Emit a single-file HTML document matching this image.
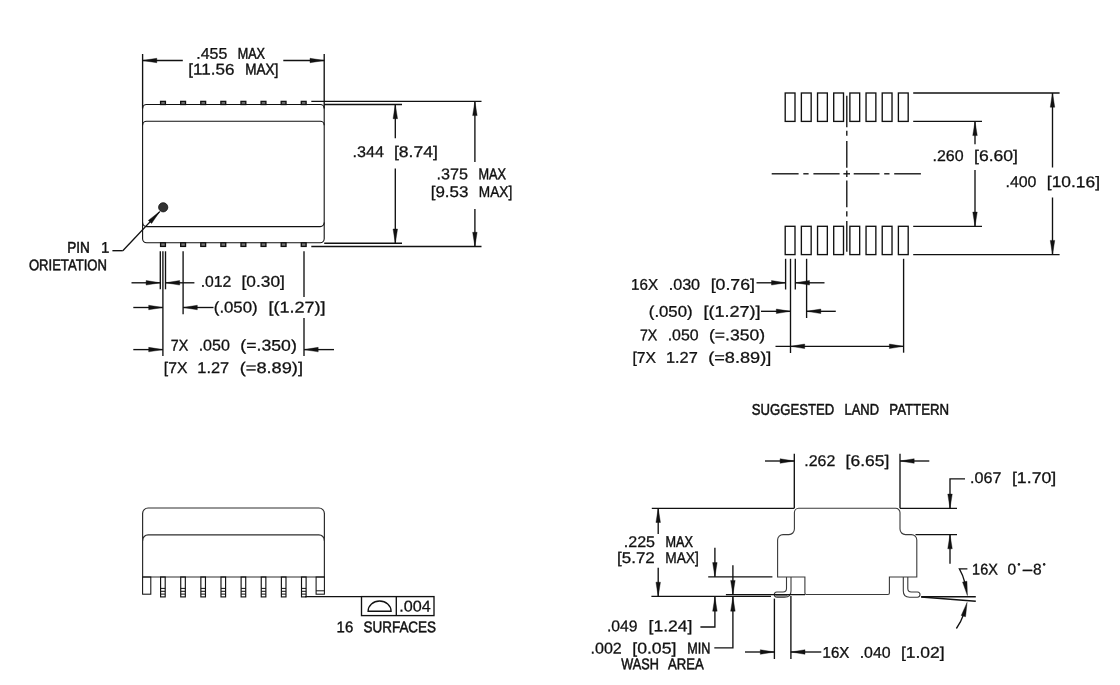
<!DOCTYPE html>
<html lang="en">
<head>
<meta charset="utf-8">
<title>Package outline drawing</title>
<style>
html,body{margin:0;padding:0;background:#fff;}
body{width:1120px;height:685px;overflow:hidden;}
svg{display:block;filter:grayscale(1);}
svg text{font-family:"Liberation Sans",sans-serif;fill:#111;text-anchor:start;stroke:#111;}
</style>
</head>
<body>
<svg width="1120" height="685" viewBox="0 0 1120 685">
<rect x="0" y="0" width="1120" height="685" fill="#ffffff" stroke="none"/>
<g stroke="#111111" fill="none">
<path d="M142.6,108.5 A4,4 0 0 1 146.6,104.5 H320.2 A4,4 0 0 1 324.2,108.5 V238.8 A4,4 0 0 1 320.2,242.8 H146.6 A4,4 0 0 1 142.6,238.8 Z" stroke-width="1.1" fill="none" />
<path d="M142.6,125.2 A4,4 0 0 1 146.6,121.2 H320.2 A4,4 0 0 1 324.2,125.2" stroke-width="1.1" fill="none" />
<path d="M142.6,222.6 A4,4 0 0 0 146.6,226.6 H320.2 A4,4 0 0 0 324.2,222.6" stroke-width="1.1" fill="none" />
<rect x="160.60" y="101.40" width="4.80" height="3.10" rx="0" stroke-width="1.35" fill="#777"/>
<rect x="160.60" y="242.80" width="4.80" height="3.60" rx="0" stroke-width="1.35" fill="#777"/>
<rect x="180.70" y="101.40" width="4.80" height="3.10" rx="0" stroke-width="1.35" fill="#777"/>
<rect x="180.70" y="242.80" width="4.80" height="3.60" rx="0" stroke-width="1.35" fill="#777"/>
<rect x="200.80" y="101.40" width="4.80" height="3.10" rx="0" stroke-width="1.35" fill="#777"/>
<rect x="200.80" y="242.80" width="4.80" height="3.60" rx="0" stroke-width="1.35" fill="#777"/>
<rect x="220.90" y="101.40" width="4.80" height="3.10" rx="0" stroke-width="1.35" fill="#777"/>
<rect x="220.90" y="242.80" width="4.80" height="3.60" rx="0" stroke-width="1.35" fill="#777"/>
<rect x="241.00" y="101.40" width="4.80" height="3.10" rx="0" stroke-width="1.35" fill="#777"/>
<rect x="241.00" y="242.80" width="4.80" height="3.60" rx="0" stroke-width="1.35" fill="#777"/>
<rect x="261.10" y="101.40" width="4.80" height="3.10" rx="0" stroke-width="1.35" fill="#777"/>
<rect x="261.10" y="242.80" width="4.80" height="3.60" rx="0" stroke-width="1.35" fill="#777"/>
<rect x="281.20" y="101.40" width="4.80" height="3.10" rx="0" stroke-width="1.35" fill="#777"/>
<rect x="281.20" y="242.80" width="4.80" height="3.60" rx="0" stroke-width="1.35" fill="#777"/>
<rect x="301.30" y="101.40" width="4.80" height="3.10" rx="0" stroke-width="1.35" fill="#777"/>
<rect x="301.30" y="242.80" width="4.80" height="3.60" rx="0" stroke-width="1.35" fill="#777"/>
<circle cx="163.2" cy="207.3" r="4.6" fill="#333" stroke="#111111" stroke-width="0.8"/>
<line x1="112.40" y1="250.70" x2="122.80" y2="250.70" stroke-width="1.35" />
<line x1="122.80" y1="250.70" x2="159.70" y2="211.60" stroke-width="1.35" />
<polygon points="159.70,211.60 151.59,223.47 148.32,220.38" fill="#111111" stroke="#111111" stroke-width="0.4"/>
<text transform="translate(67.20,252.70) rotate(0.05) scale(0.8774,1)" font-size="15.5" stroke-width="0.5">PIN</text>
<text transform="translate(100.94,252.70) rotate(0.05) scale(0.9788,1)" font-size="15.5" stroke-width="0.28">1</text>
<text transform="translate(28.90,270.30) rotate(0.05) scale(0.8450,1)" font-size="15.5" stroke-width="0.5">ORIETATION</text>
<line x1="142.60" y1="54.00" x2="142.60" y2="108.50" stroke-width="1.35" />
<line x1="324.20" y1="54.00" x2="324.20" y2="108.50" stroke-width="1.35" />
<line x1="182.80" y1="60.50" x2="142.60" y2="60.50" stroke-width="1.35" />
<polygon points="142.60,60.50 156.80,58.25 156.80,62.75" fill="#111111" stroke="#111111" stroke-width="0.4"/>
<line x1="283.30" y1="60.50" x2="324.20" y2="60.50" stroke-width="1.35" />
<polygon points="324.20,60.50 310.00,62.75 310.00,58.25" fill="#111111" stroke="#111111" stroke-width="0.4"/>
<text transform="translate(196.20,58.70) rotate(0.05) scale(1.0306,1)" font-size="15.5" stroke-width="0.28">.455</text>
<text transform="translate(237.71,58.70) rotate(0.05) scale(0.8125,1)" font-size="15.5" stroke-width="0.5">MAX</text>
<text transform="translate(188.30,74.60) rotate(0.05) scale(1.0999,1)" font-size="15.5" stroke-width="0.28">[11.56</text>
<text transform="translate(245.17,74.60) rotate(0.05) scale(0.8715,1)" font-size="15.5" stroke-width="0.5">MAX]</text>
<line x1="324.20" y1="104.50" x2="402.00" y2="104.50" stroke-width="1.35" />
<line x1="324.20" y1="243.20" x2="402.00" y2="243.20" stroke-width="1.35" />
<line x1="311.30" y1="101.40" x2="481.50" y2="101.40" stroke-width="1.35" />
<line x1="311.30" y1="246.50" x2="481.50" y2="246.50" stroke-width="1.35" />
<line x1="395.30" y1="138.20" x2="395.30" y2="104.50" stroke-width="1.35" />
<polygon points="395.30,104.50 397.55,118.70 393.05,118.70" fill="#111111" stroke="#111111" stroke-width="0.4"/>
<line x1="395.30" y1="168.50" x2="395.30" y2="243.20" stroke-width="1.35" />
<polygon points="395.30,243.20 393.05,229.00 397.55,229.00" fill="#111111" stroke="#111111" stroke-width="0.4"/>
<line x1="474.90" y1="162.00" x2="474.90" y2="101.40" stroke-width="1.35" />
<polygon points="474.90,101.40 477.15,115.60 472.65,115.60" fill="#111111" stroke="#111111" stroke-width="0.4"/>
<line x1="474.90" y1="209.00" x2="474.90" y2="246.50" stroke-width="1.35" />
<polygon points="474.90,246.50 472.65,232.30 477.15,232.30" fill="#111111" stroke="#111111" stroke-width="0.4"/>
<text transform="translate(352.50,156.90) rotate(0.05) scale(1.0451,1)" font-size="15.5" stroke-width="0.28">.344</text>
<text transform="translate(393.96,156.90) rotate(0.05) scale(1.1305,1)" font-size="15.5" stroke-width="0.28">[8.74]</text>
<text transform="translate(436.50,179.30) rotate(0.05) scale(1.0423,1)" font-size="15.5" stroke-width="0.28">.375</text>
<text transform="translate(478.50,179.30) rotate(0.05) scale(0.8217,1)" font-size="15.5" stroke-width="0.5">MAX</text>
<text transform="translate(430.70,196.90) rotate(0.05) scale(1.0930,1)" font-size="15.5" stroke-width="0.28">[9.53</text>
<text transform="translate(478.79,196.90) rotate(0.05) scale(0.8817,1)" font-size="15.5" stroke-width="0.38">MAX]</text>
<line x1="160.30" y1="251.30" x2="160.30" y2="289.30" stroke-width="1.35" />
<line x1="165.50" y1="251.30" x2="165.50" y2="289.30" stroke-width="1.35" />
<line x1="162.90" y1="251.30" x2="162.90" y2="356.00" stroke-width="1.35" />
<line x1="183.10" y1="251.30" x2="183.10" y2="314.30" stroke-width="1.35" />
<line x1="304.00" y1="251.30" x2="304.00" y2="297.00" stroke-width="1.35" />
<line x1="304.00" y1="318.00" x2="304.00" y2="356.00" stroke-width="1.35" />
<line x1="131.50" y1="282.80" x2="160.30" y2="282.80" stroke-width="1.35" />
<polygon points="160.30,282.80 146.10,285.05 146.10,280.55" fill="#111111" stroke="#111111" stroke-width="0.4"/>
<line x1="194.40" y1="282.80" x2="165.50" y2="282.80" stroke-width="1.35" />
<polygon points="165.50,282.80 179.70,280.55 179.70,285.05" fill="#111111" stroke="#111111" stroke-width="0.4"/>
<text transform="translate(200.70,286.80) rotate(0.05) scale(1.0153,1)" font-size="15.5" stroke-width="0.28">.012</text>
<text transform="translate(241.57,286.80) rotate(0.05) scale(1.1148,1)" font-size="15.5" stroke-width="0.28">[0.30]</text>
<line x1="133.30" y1="307.50" x2="162.90" y2="307.50" stroke-width="1.35" />
<polygon points="162.90,307.50 148.70,309.75 148.70,305.25" fill="#111111" stroke="#111111" stroke-width="0.4"/>
<line x1="213.50" y1="307.50" x2="183.10" y2="307.50" stroke-width="1.35" />
<polygon points="183.10,307.50 197.30,305.25 197.30,309.75" fill="#111111" stroke="#111111" stroke-width="0.4"/>
<text transform="translate(213.80,312.40) rotate(0.05) scale(1.0826,1)" font-size="15.5" stroke-width="0.28">(.050)</text>
<text transform="translate(268.51,312.40) rotate(0.05) scale(1.1627,1)" font-size="15.5" stroke-width="0.28">[(1.27)]</text>
<line x1="133.30" y1="349.60" x2="162.90" y2="349.60" stroke-width="1.35" />
<polygon points="162.90,349.60 148.70,351.85 148.70,347.35" fill="#111111" stroke="#111111" stroke-width="0.4"/>
<line x1="334.00" y1="349.60" x2="304.00" y2="349.60" stroke-width="1.35" />
<polygon points="304.00,349.60 318.20,347.35 318.20,351.85" fill="#111111" stroke="#111111" stroke-width="0.4"/>
<text transform="translate(170.80,350.60) rotate(0.05) scale(0.9176,1)" font-size="15.5" stroke-width="0.38">7X</text>
<text transform="translate(198.67,350.60) rotate(0.05) scale(1.0347,1)" font-size="15.5" stroke-width="0.28">.050</text>
<text transform="translate(240.35,350.60) rotate(0.05) scale(1.1396,1)" font-size="15.5" stroke-width="0.28">(=.350)</text>
<text transform="translate(163.80,373.00) rotate(0.05) scale(1.0162,1)" font-size="15.5" stroke-width="0.28">[7X</text>
<text transform="translate(197.32,373.00) rotate(0.05) scale(1.0578,1)" font-size="15.5" stroke-width="0.28">1.27</text>
<text transform="translate(239.72,373.00) rotate(0.05) scale(1.1751,1)" font-size="15.5" stroke-width="0.28">(=8.89)]</text>
<rect x="785.20" y="93.00" width="9.80" height="28.40" rx="0" stroke-width="1.35" fill="none"/>
<rect x="785.20" y="226.30" width="9.80" height="28.30" rx="0" stroke-width="1.35" fill="none"/>
<rect x="801.37" y="93.00" width="9.80" height="28.40" rx="0" stroke-width="1.35" fill="none"/>
<rect x="801.37" y="226.30" width="9.80" height="28.30" rx="0" stroke-width="1.35" fill="none"/>
<rect x="817.54" y="93.00" width="9.80" height="28.40" rx="0" stroke-width="1.35" fill="none"/>
<rect x="817.54" y="226.30" width="9.80" height="28.30" rx="0" stroke-width="1.35" fill="none"/>
<rect x="833.71" y="93.00" width="9.80" height="28.40" rx="0" stroke-width="1.35" fill="none"/>
<rect x="833.71" y="226.30" width="9.80" height="28.30" rx="0" stroke-width="1.35" fill="none"/>
<rect x="849.88" y="93.00" width="9.80" height="28.40" rx="0" stroke-width="1.35" fill="none"/>
<rect x="849.88" y="226.30" width="9.80" height="28.30" rx="0" stroke-width="1.35" fill="none"/>
<rect x="866.05" y="93.00" width="9.80" height="28.40" rx="0" stroke-width="1.35" fill="none"/>
<rect x="866.05" y="226.30" width="9.80" height="28.30" rx="0" stroke-width="1.35" fill="none"/>
<rect x="882.22" y="93.00" width="9.80" height="28.40" rx="0" stroke-width="1.35" fill="none"/>
<rect x="882.22" y="226.30" width="9.80" height="28.30" rx="0" stroke-width="1.35" fill="none"/>
<rect x="898.39" y="93.00" width="9.80" height="28.40" rx="0" stroke-width="1.35" fill="none"/>
<rect x="898.39" y="226.30" width="9.80" height="28.30" rx="0" stroke-width="1.35" fill="none"/>
<line x1="846.80" y1="95.70" x2="846.80" y2="127.20" stroke-width="1.35" />
<line x1="846.80" y1="130.80" x2="846.80" y2="135.80" stroke-width="1.35" />
<line x1="846.80" y1="141.10" x2="846.80" y2="167.80" stroke-width="1.35" />
<line x1="846.80" y1="170.60" x2="846.80" y2="177.00" stroke-width="1.35" />
<line x1="846.80" y1="180.50" x2="846.80" y2="207.20" stroke-width="1.35" />
<line x1="846.80" y1="211.20" x2="846.80" y2="216.60" stroke-width="1.35" />
<line x1="846.80" y1="221.00" x2="846.80" y2="251.80" stroke-width="1.35" />
<line x1="771.70" y1="173.80" x2="798.60" y2="173.80" stroke-width="1.35" />
<line x1="803.30" y1="173.80" x2="808.60" y2="173.80" stroke-width="1.35" />
<line x1="813.40" y1="173.80" x2="839.60" y2="173.80" stroke-width="1.35" />
<line x1="843.40" y1="173.80" x2="850.00" y2="173.80" stroke-width="1.35" />
<line x1="853.70" y1="173.80" x2="879.50" y2="173.80" stroke-width="1.35" />
<line x1="884.20" y1="173.80" x2="889.50" y2="173.80" stroke-width="1.35" />
<line x1="894.20" y1="173.80" x2="920.90" y2="173.80" stroke-width="1.35" />
<line x1="913.20" y1="93.00" x2="1059.60" y2="93.00" stroke-width="1.35" />
<line x1="913.20" y1="121.40" x2="982.00" y2="121.40" stroke-width="1.35" />
<line x1="913.20" y1="226.30" x2="982.00" y2="226.30" stroke-width="1.35" />
<line x1="913.20" y1="254.60" x2="1059.60" y2="254.60" stroke-width="1.35" />
<line x1="975.00" y1="144.30" x2="975.00" y2="121.40" stroke-width="1.35" />
<polygon points="975.00,121.40 977.25,135.60 972.75,135.60" fill="#111111" stroke="#111111" stroke-width="0.4"/>
<line x1="975.00" y1="170.00" x2="975.00" y2="226.30" stroke-width="1.35" />
<polygon points="975.00,226.30 972.75,212.10 977.25,212.10" fill="#111111" stroke="#111111" stroke-width="0.4"/>
<text transform="translate(932.50,160.90) rotate(0.05) scale(1.0317,1)" font-size="15.5" stroke-width="0.28">.260</text>
<text transform="translate(974.06,160.90) rotate(0.05) scale(1.1331,1)" font-size="15.5" stroke-width="0.28">[6.60]</text>
<line x1="1052.50" y1="167.50" x2="1052.50" y2="93.00" stroke-width="1.35" />
<polygon points="1052.50,93.00 1054.75,107.20 1050.25,107.20" fill="#111111" stroke="#111111" stroke-width="0.4"/>
<line x1="1052.50" y1="197.50" x2="1052.50" y2="254.60" stroke-width="1.35" />
<polygon points="1052.50,254.60 1050.25,240.40 1054.75,240.40" fill="#111111" stroke="#111111" stroke-width="0.4"/>
<text transform="translate(1005.50,187.10) rotate(0.05) scale(1.0265,1)" font-size="15.5" stroke-width="0.28">.400</text>
<text transform="translate(1046.84,187.10) rotate(0.05) scale(1.1216,1)" font-size="15.5" stroke-width="0.28">[10.16]</text>
<line x1="785.60" y1="258.80" x2="785.60" y2="289.50" stroke-width="1.35" />
<line x1="795.30" y1="258.80" x2="795.30" y2="289.50" stroke-width="1.35" />
<line x1="790.50" y1="258.80" x2="790.50" y2="353.00" stroke-width="1.35" />
<line x1="806.60" y1="258.80" x2="806.60" y2="318.00" stroke-width="1.35" />
<line x1="903.60" y1="258.80" x2="903.60" y2="352.70" stroke-width="1.35" />
<text transform="translate(631.03,289.70) rotate(0.05) scale(0.9834,1)" font-size="15.5" stroke-width="0.28">16X</text>
<text transform="translate(668.70,289.70) rotate(0.05) scale(1.0412,1)" font-size="15.5" stroke-width="0.28">.030</text>
<text transform="translate(710.65,289.70) rotate(0.05) scale(1.1436,1)" font-size="15.5" stroke-width="0.28">[0.76]</text>
<line x1="756.50" y1="282.80" x2="785.70" y2="282.80" stroke-width="1.35" />
<polygon points="785.70,282.80 771.50,285.05 771.50,280.55" fill="#111111" stroke="#111111" stroke-width="0.4"/>
<line x1="824.50" y1="282.80" x2="795.30" y2="282.80" stroke-width="1.35" />
<polygon points="795.30,282.80 809.50,280.55 809.50,285.05" fill="#111111" stroke="#111111" stroke-width="0.4"/>
<text transform="translate(648.80,316.70) rotate(0.05) scale(1.0816,1)" font-size="15.5" stroke-width="0.28">(.050)</text>
<text transform="translate(703.46,316.70) rotate(0.05) scale(1.1616,1)" font-size="15.5" stroke-width="0.28">[(1.27)]</text>
<line x1="761.00" y1="311.30" x2="790.50" y2="311.30" stroke-width="1.35" />
<polygon points="790.50,311.30 776.30,313.55 776.30,309.05" fill="#111111" stroke="#111111" stroke-width="0.4"/>
<line x1="835.80" y1="311.30" x2="806.60" y2="311.30" stroke-width="1.35" />
<polygon points="806.60,311.30 820.80,309.05 820.80,313.55" fill="#111111" stroke="#111111" stroke-width="0.4"/>
<text transform="translate(640.00,340.30) rotate(0.05) scale(0.9108,1)" font-size="15.5" stroke-width="0.38">7X</text>
<text transform="translate(667.64,340.30) rotate(0.05) scale(1.0267,1)" font-size="15.5" stroke-width="0.28">.050</text>
<text transform="translate(708.99,340.30) rotate(0.05) scale(1.1307,1)" font-size="15.5" stroke-width="0.28">(=.350)</text>
<text transform="translate(632.50,362.80) rotate(0.05) scale(1.0134,1)" font-size="15.5" stroke-width="0.28">[7X</text>
<text transform="translate(665.92,362.80) rotate(0.05) scale(1.0548,1)" font-size="15.5" stroke-width="0.28">1.27</text>
<text transform="translate(708.20,362.80) rotate(0.05) scale(1.1718,1)" font-size="15.5" stroke-width="0.28">(=8.89)]</text>
<line x1="775.50" y1="346.30" x2="903.60" y2="346.30" stroke-width="1.35" />
<polygon points="790.50,346.30 804.70,344.05 804.70,348.55" fill="#111111" stroke="#111111" stroke-width="0.4"/>
<polygon points="903.60,346.30 889.40,348.55 889.40,344.05" fill="#111111" stroke="#111111" stroke-width="0.4"/>
<text transform="translate(751.80,414.70) rotate(0.05) scale(0.8467,1)" font-size="15.5" stroke-width="0.5">SUGGESTED</text>
<text transform="translate(844.50,414.70) rotate(0.05) scale(0.8349,1)" font-size="15.5" stroke-width="0.5">LAND</text>
<text transform="translate(889.33,414.70) rotate(0.05) scale(0.8548,1)" font-size="15.5" stroke-width="0.5">PATTERN</text>
<path d="M142.6,541 V513.5 A5.5,5.5 0 0 1 148.1,508 H318.9 A5.5,5.5 0 0 1 324.4,513.5 V541" stroke-width="1.2" fill="none" stroke="#2e2e2e"/>
<path d="M142.6,577 V540.4 A5.5,5.5 0 0 1 148.1,534.9 H318.9 A5.5,5.5 0 0 1 324.4,540.4 V577 Z" stroke-width="1.2" fill="none" stroke="#2e2e2e"/>
<rect x="142.60" y="577.00" width="8.20" height="17.20" rx="0" stroke-width="1.05" fill="none"/>
<rect x="316.10" y="577.00" width="8.30" height="17.20" rx="0" stroke-width="1.05" fill="none"/>
<line x1="316.10" y1="590.80" x2="324.40" y2="590.80" stroke-width="1.0" />
<rect x="160.60" y="577.00" width="4.60" height="19.90" rx="0" stroke-width="1.15" fill="none"/>
<line x1="160.60" y1="588.40" x2="165.20" y2="588.40" stroke-width="1.0" />
<line x1="160.60" y1="591.30" x2="165.20" y2="591.30" stroke-width="1.0" />
<line x1="160.60" y1="594.10" x2="165.20" y2="594.10" stroke-width="1.0" />
<rect x="180.73" y="577.00" width="4.60" height="19.90" rx="0" stroke-width="1.15" fill="none"/>
<line x1="180.73" y1="588.40" x2="185.33" y2="588.40" stroke-width="1.0" />
<line x1="180.73" y1="591.30" x2="185.33" y2="591.30" stroke-width="1.0" />
<line x1="180.73" y1="594.10" x2="185.33" y2="594.10" stroke-width="1.0" />
<rect x="200.86" y="577.00" width="4.60" height="19.90" rx="0" stroke-width="1.15" fill="none"/>
<line x1="200.86" y1="588.40" x2="205.46" y2="588.40" stroke-width="1.0" />
<line x1="200.86" y1="591.30" x2="205.46" y2="591.30" stroke-width="1.0" />
<line x1="200.86" y1="594.10" x2="205.46" y2="594.10" stroke-width="1.0" />
<rect x="220.99" y="577.00" width="4.60" height="19.90" rx="0" stroke-width="1.15" fill="none"/>
<line x1="220.99" y1="588.40" x2="225.59" y2="588.40" stroke-width="1.0" />
<line x1="220.99" y1="591.30" x2="225.59" y2="591.30" stroke-width="1.0" />
<line x1="220.99" y1="594.10" x2="225.59" y2="594.10" stroke-width="1.0" />
<rect x="241.12" y="577.00" width="4.60" height="19.90" rx="0" stroke-width="1.15" fill="none"/>
<line x1="241.12" y1="588.40" x2="245.72" y2="588.40" stroke-width="1.0" />
<line x1="241.12" y1="591.30" x2="245.72" y2="591.30" stroke-width="1.0" />
<line x1="241.12" y1="594.10" x2="245.72" y2="594.10" stroke-width="1.0" />
<rect x="261.25" y="577.00" width="4.60" height="19.90" rx="0" stroke-width="1.15" fill="none"/>
<line x1="261.25" y1="588.40" x2="265.85" y2="588.40" stroke-width="1.0" />
<line x1="261.25" y1="591.30" x2="265.85" y2="591.30" stroke-width="1.0" />
<line x1="261.25" y1="594.10" x2="265.85" y2="594.10" stroke-width="1.0" />
<rect x="281.38" y="577.00" width="4.60" height="19.90" rx="0" stroke-width="1.15" fill="none"/>
<line x1="281.38" y1="588.40" x2="285.98" y2="588.40" stroke-width="1.0" />
<line x1="281.38" y1="591.30" x2="285.98" y2="591.30" stroke-width="1.0" />
<line x1="281.38" y1="594.10" x2="285.98" y2="594.10" stroke-width="1.0" />
<rect x="301.51" y="577.00" width="4.60" height="19.90" rx="0" stroke-width="1.15" fill="none"/>
<line x1="301.51" y1="588.40" x2="306.11" y2="588.40" stroke-width="1.0" />
<line x1="301.51" y1="591.30" x2="306.11" y2="591.30" stroke-width="1.0" />
<line x1="301.51" y1="594.10" x2="306.11" y2="594.10" stroke-width="1.0" />
<line x1="305.00" y1="596.60" x2="361.50" y2="596.60" stroke-width="1.35" />
<rect x="361.50" y="596.60" width="72.50" height="19.00" rx="0" stroke-width="1.35" fill="none"/>
<line x1="396.30" y1="596.60" x2="396.30" y2="615.60" stroke-width="1.35" />
<path d="M368.1,611.2 A11.5,10.2 0 0 1 391.1,611.2 Z" stroke-width="1.35" fill="none" />
<text transform="translate(399.30,611.60) rotate(0.05) scale(1.0443,1)" font-size="15.5" stroke-width="0.28">.004</text>
<text transform="translate(336.56,632.30) rotate(0.05) scale(0.9660,1)" font-size="15.5" stroke-width="0.38">16</text>
<text transform="translate(363.45,632.30) rotate(0.05) scale(0.8696,1)" font-size="15.5" stroke-width="0.5">SURFACES</text>
<path d="M798.6,508.3 H895.7 A4.3,4.3 0 0 1 900,512.6 V529.1 A5.5,5.5 0 0 0 905.5,534.6 H911.3 A5.5,5.5 0 0 1 916.8,540.1 V577 H889.4 V593 Q889.4,594.5 887.9,594.5 H806.4 Q804.9,594.5 804.9,593 V577 H777.6 V540.1 A5.5,5.5 0 0 1 783.1,534.6 H788.9 A5.5,5.5 0 0 0 794.4,529.1 V512.6 A4.3,4.3 0 0 1 798.6,508.3 Z" stroke-width="1.1" fill="none" stroke="#3a3a3a"/>
<path d="M786.5,577 V588.5 Q786.5,592 783,592 H776.8 Q774.3,592.2 774.3,594.6 Q774.3,597.2 776.8,597.2 H784.8 Q791,597.2 791,591 V577" stroke-width="1.1" fill="none" stroke="#3a3a3a"/>
<path d="M775.5,595.3 H787.5 Q786,596.8 783.5,596.9 H777 Z" stroke-width="0.3" fill="#999" />
<path d="M907.8,577 V588.5 Q907.8,592 911.3,592 H917.5 Q920,592.2 920,594.6 Q920,597.2 917.5,597.2 H909.5 Q903.3,597.2 903.3,591 V577" stroke-width="1.1" fill="none" stroke="#3a3a3a"/>
<line x1="794.30" y1="453.80" x2="794.30" y2="508.30" stroke-width="1.35" />
<line x1="900.00" y1="453.80" x2="900.00" y2="508.30" stroke-width="1.35" />
<line x1="765.00" y1="461.00" x2="794.30" y2="461.00" stroke-width="1.35" />
<polygon points="794.30,461.00 780.10,463.25 780.10,458.75" fill="#111111" stroke="#111111" stroke-width="0.4"/>
<line x1="929.30" y1="461.00" x2="900.00" y2="461.00" stroke-width="1.35" />
<polygon points="900.00,461.00 914.20,458.75 914.20,463.25" fill="#111111" stroke="#111111" stroke-width="0.4"/>
<text transform="translate(804.30,465.90) rotate(0.05) scale(1.0259,1)" font-size="15.5" stroke-width="0.28">.262</text>
<text transform="translate(845.61,465.90) rotate(0.05) scale(1.1266,1)" font-size="15.5" stroke-width="0.28">[6.65]</text>
<line x1="651.80" y1="508.30" x2="794.30" y2="508.30" stroke-width="1.35" />
<line x1="651.40" y1="596.40" x2="771.00" y2="596.40" stroke-width="1.35" />
<line x1="658.20" y1="534.00" x2="658.20" y2="508.30" stroke-width="1.35" />
<polygon points="658.20,508.30 660.45,522.50 655.95,522.50" fill="#111111" stroke="#111111" stroke-width="0.4"/>
<line x1="658.20" y1="567.80" x2="658.20" y2="596.40" stroke-width="1.35" />
<polygon points="658.20,596.40 655.95,582.20 660.45,582.20" fill="#111111" stroke="#111111" stroke-width="0.4"/>
<text transform="translate(623.80,547.10) rotate(0.05) scale(1.0365,1)" font-size="15.5" stroke-width="0.28">.225</text>
<text transform="translate(665.55,547.10) rotate(0.05) scale(0.8171,1)" font-size="15.5" stroke-width="0.5">MAX</text>
<text transform="translate(617.00,562.90) rotate(0.05) scale(1.0970,1)" font-size="15.5" stroke-width="0.28">[5.72</text>
<text transform="translate(665.26,562.90) rotate(0.05) scale(0.8849,1)" font-size="15.5" stroke-width="0.38">MAX]</text>
<line x1="708.20" y1="576.80" x2="772.40" y2="576.80" stroke-width="1.35" />
<line x1="714.90" y1="547.80" x2="714.90" y2="576.80" stroke-width="1.35" />
<polygon points="714.90,576.80 712.65,562.60 717.15,562.60" fill="#111111" stroke="#111111" stroke-width="0.4"/>
<path d="M700.4,627 H714.9 V597" stroke-width="1.35" fill="none" />
<polygon points="714.90,597.00 717.15,611.20 712.65,611.20" fill="#111111" stroke="#111111" stroke-width="0.4"/>
<text transform="translate(607.00,631.30) rotate(0.05) scale(1.0160,1)" font-size="15.5" stroke-width="0.28">.049</text>
<text transform="translate(648.56,631.30) rotate(0.05) scale(1.1331,1)" font-size="15.5" stroke-width="0.28">[1.24]</text>
<line x1="725.90" y1="594.60" x2="805.00" y2="594.60" stroke-width="1.35" />
<line x1="732.90" y1="565.20" x2="732.90" y2="594.60" stroke-width="1.35" />
<polygon points="732.90,594.60 730.65,580.40 735.15,580.40" fill="#111111" stroke="#111111" stroke-width="0.4"/>
<path d="M714.3,647.8 H732.9 V597" stroke-width="1.35" fill="none" />
<polygon points="732.90,597.00 735.15,611.20 730.65,611.20" fill="#111111" stroke="#111111" stroke-width="0.4"/>
<text transform="translate(590.50,653.50) rotate(0.05) scale(1.0363,1)" font-size="15.5" stroke-width="0.28">.002</text>
<text transform="translate(632.25,653.50) rotate(0.05) scale(1.1382,1)" font-size="15.5" stroke-width="0.28">[0.05]</text>
<text transform="translate(687.35,653.50) rotate(0.05) scale(0.8147,1)" font-size="15.5" stroke-width="0.5">MIN</text>
<text transform="translate(621.30,669.30) rotate(0.05) scale(0.8174,1)" font-size="15.5" stroke-width="0.5">WASH</text>
<text transform="translate(668.12,669.30) rotate(0.05) scale(0.8453,1)" font-size="15.5" stroke-width="0.5">AREA</text>
<line x1="774.40" y1="598.60" x2="774.40" y2="659.00" stroke-width="1.35" />
<line x1="790.90" y1="596.00" x2="790.90" y2="659.00" stroke-width="1.35" />
<line x1="745.00" y1="652.00" x2="774.50" y2="652.00" stroke-width="1.35" />
<polygon points="774.50,652.00 760.30,654.25 760.30,649.75" fill="#111111" stroke="#111111" stroke-width="0.4"/>
<line x1="821.30" y1="652.00" x2="790.80" y2="652.00" stroke-width="1.35" />
<polygon points="790.80,652.00 805.00,649.75 805.00,654.25" fill="#111111" stroke="#111111" stroke-width="0.4"/>
<text transform="translate(822.56,657.80) rotate(0.05) scale(0.9688,1)" font-size="15.5" stroke-width="0.38">16X</text>
<text transform="translate(859.63,657.80) rotate(0.05) scale(1.0255,1)" font-size="15.5" stroke-width="0.28">.040</text>
<text transform="translate(900.93,657.80) rotate(0.05) scale(1.1262,1)" font-size="15.5" stroke-width="0.28">[1.02]</text>
<line x1="900.00" y1="508.30" x2="957.00" y2="508.30" stroke-width="1.35" />
<line x1="915.50" y1="534.60" x2="957.00" y2="534.60" stroke-width="1.35" />
<path d="M965,478.8 H950 V508.3" stroke-width="1.35" fill="none" />
<polygon points="950.00,508.30 947.75,494.10 952.25,494.10" fill="#111111" stroke="#111111" stroke-width="0.4"/>
<line x1="950.00" y1="563.80" x2="950.00" y2="534.60" stroke-width="1.35" />
<polygon points="950.00,534.60 952.25,548.80 947.75,548.80" fill="#111111" stroke="#111111" stroke-width="0.4"/>
<text transform="translate(970.00,482.90) rotate(0.05) scale(1.0412,1)" font-size="15.5" stroke-width="0.28">.067</text>
<text transform="translate(1011.95,482.90) rotate(0.05) scale(1.1436,1)" font-size="15.5" stroke-width="0.28">[1.70]</text>
<text transform="translate(972.11,574.40) rotate(0.05) scale(0.9316,1)" font-size="15.5" stroke-width="0.38">16X</text>
<text transform="rotate(0.05 1007 574)" x="1007.6" y="574.4" font-size="15.5" stroke-width="0.28">0<tspan x="1017.4" dy="-6.2" font-size="7" stroke-width="0.7">°</tspan><tspan x="1021.2" dy="6.2" textLength="12.5" lengthAdjust="spacingAndGlyphs">-</tspan><tspan x="1033.1">8</tspan><tspan x="1042.7" dy="-6.2" font-size="7" stroke-width="0.7">°</tspan></text>
<path d="M921.2,596.7 H975.8" stroke-width="1.5" fill="none" />
<path d="M921.2,597 L975.8,601.3" stroke-width="1.5" fill="none" />
<path d="M967.4,568.9 H959.4 Q963.2,575.5 965,583" stroke-width="1.3" fill="none" />
<polygon points="967.40,595.60 962.54,582.07 966.96,581.23" fill="#111111" stroke="#111111" stroke-width="0.4"/>
<path d="M956.4,628.5 Q961,622 964,613.5" stroke-width="1.3" fill="none" />
<polygon points="967.10,602.40 965.57,616.70 961.23,615.52" fill="#111111" stroke="#111111" stroke-width="0.4"/>
</g>
</svg>
</body>
</html>
